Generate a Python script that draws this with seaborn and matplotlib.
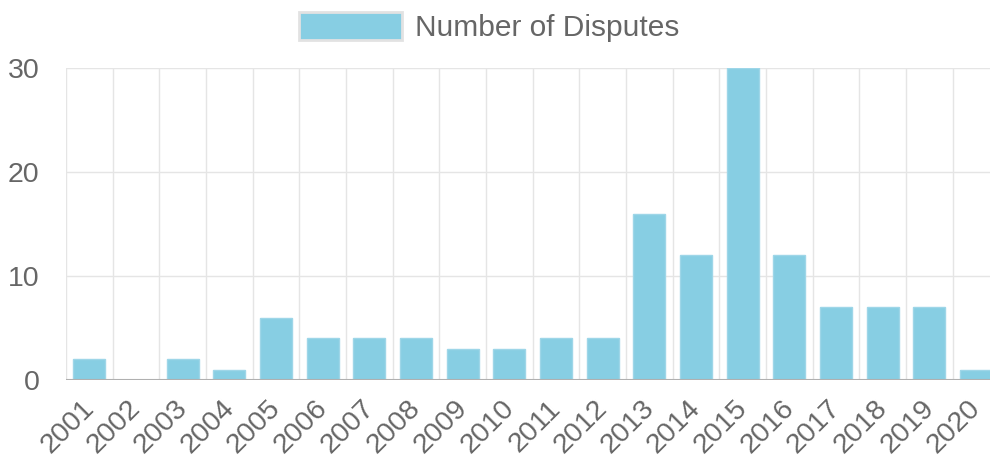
import numpy as np
import pandas as pd
import seaborn as sns
import matplotlib.pyplot as plt
from matplotlib.patches import Patch

years = [str(y) for y in range(2001, 2021)]
disputes = [2, 0, 2, 1, 6, 4, 4, 4, 3, 3, 4, 4, 16, 12, 30, 12, 7, 7, 7, 1]
yticks = [0, 10, 20, 30]

bar_color = '#87CEE3'
text_color = '#666666'
grid_color = '#E5E5E5'

df = pd.DataFrame({'year': years, 'disputes': disputes})

sns.set_style('white')
plt.rcParams['font.family'] = ['Liberation Sans', 'DejaVu Sans']

fig = plt.figure(figsize=(9.9, 4.61), dpi=100)
W, H = 990, 461
left, right, top, bottom = 66, 999.4, 68, 380
ax = fig.add_axes([left / W, 1 - bottom / H, (right - left) / W, (bottom - top) / H])

sns.barplot(data=df, x='year', y='disputes', color=bar_color, width=0.686,
            edgecolor='#9ED6E8', linewidth=1, saturation=1, ax=ax)

ax.set_xlim(-0.5, 19.5)
ax.set_ylim(0, 30)
ax.set_xlabel('')
ax.set_ylabel('')

# horizontal grid
for v in yticks[1:]:
    ax.axhline(v, color=grid_color, lw=1, zorder=0)
ax.axhline(0, color='#B0B0B0', lw=1.5, zorder=3)
# vertical grid at category boundaries
for k in range(20):
    ax.axvline(k - 0.5, color=grid_color, lw=1, zorder=0)

for s in ax.spines.values():
    s.set_visible(False)

fs = 20.5
ax.set_yticks(yticks)
ax.set_yticklabels([str(v) for v in yticks], fontsize=fs, color=text_color)
ax.tick_params(axis='y', length=19, width=1, color=grid_color, pad=0)

ax.set_xticks(np.arange(20) - 0.18)
ax.set_xticklabels(years, fontsize=fs, color=text_color, rotation=45,
                   ha='right', rotation_mode='anchor')
ax.tick_params(axis='x', which='major', length=0, pad=11)
ax.set_xticks(np.arange(20) - 0.5, minor=True)
ax.tick_params(axis='x', which='minor', length=18, width=1, color=grid_color)

handle = Patch(facecolor=bar_color, edgecolor='#E2E2E2', linewidth=2)
fig.legend(handles=[handle], labels=['Number of Disputes'], loc='center left',
           bbox_to_anchor=(299 / W, 1 - 27 / H), frameon=False, fontsize=21.5,
           labelcolor=text_color, handlelength=3.45, handleheight=1.05,
           handletextpad=0.45, borderpad=0, borderaxespad=0)

fig.savefig('out.png', dpi=100)
